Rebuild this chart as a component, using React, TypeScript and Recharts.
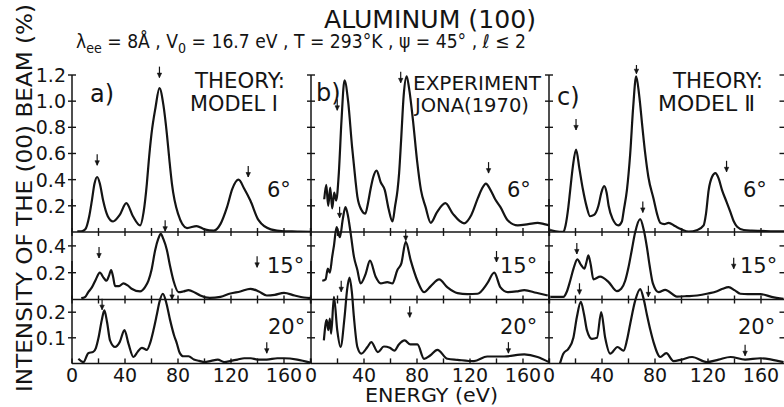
import React from 'react';
import { ComposedChart, Line, XAxis, YAxis, ReferenceDot } from 'recharts';

// ---------------- data (energy in eV, intensity in %) ----------------
// Column a) Theory: Model I
const aE6 = [4, 7, 10, 13, 15, 17, 19, 21, 23.5, 27, 31, 36, 41, 46, 51.4, 54, 56.5, 58, 60, 63, 66, 69, 71.6, 73.5, 75.4, 80, 86.8, 94, 100, 107, 112, 117, 121, 125.7, 130, 134.6, 140.8, 150, 160, 170, 180];
const aI6 = [0.005, 0.005, 0.02, 0.12, 0.24, 0.37, 0.42, 0.37, 0.24, 0.12, 0.08, 0.13, 0.22, 0.12, 0.05, 0.15, 0.37, 0.55, 0.75, 0.95, 1.1, 0.97, 0.75, 0.55, 0.37, 0.14, 0.03, 0.045, 0.02, 0.01, 0.06, 0.19, 0.33, 0.4, 0.33, 0.24, 0.09, 0.02, 0.005, 0.003, 0];
const aE15 = [7, 10, 12.3, 15, 18, 21, 24, 26, 28, 29.5, 31, 32.5, 35.5, 38.8, 42, 45, 51.4, 55, 57.7, 60, 62.8, 65, 67, 69, 71.6, 74, 76.6, 80.4, 84, 88, 93, 96.8, 104, 112, 119.5, 127, 134.6, 141, 147, 153, 160, 168, 175, 180];
const aI15 = [0.01, 0.02, 0.055, 0.09, 0.15, 0.2, 0.16, 0.14, 0.18, 0.22, 0.17, 0.1, 0.1, 0.12, 0.105, 0.08, 0.06, 0.09, 0.14, 0.22, 0.37, 0.45, 0.49, 0.45, 0.37, 0.25, 0.14, 0.055, 0.06, 0.07, 0.05, 0.03, 0.012, 0.02, 0.045, 0.06, 0.08, 0.06, 0.03, 0.035, 0.05, 0.03, 0.015, 0.01];
const aE20 = [4.8, 8.6, 12.3, 16, 18, 20, 22.5, 24.4, 26.5, 28.7, 32.5, 36, 39.6, 42.6, 46.4, 49.5, 52.7, 56.5, 59, 61.5, 64, 66, 68.6, 71, 74, 77, 79, 81.4, 84, 88, 92, 96, 100, 105, 110, 115, 120, 125, 130, 135, 140, 147, 155, 160, 170, 180];
const aI20 = [0.018, 0.005, 0.04, 0.045, 0.06, 0.1, 0.17, 0.207, 0.16, 0.09, 0.064, 0.083, 0.13, 0.077, 0.025, 0.045, 0.061, 0.053, 0.08, 0.13, 0.19, 0.24, 0.272, 0.24, 0.17, 0.11, 0.08, 0.04, 0.028, 0.028, 0.015, 0.01, 0.005, 0.01, 0.015, 0.005, 0.01, 0.015, 0.02, 0.02, 0.015, 0.015, 0.02, 0.02, 0.015, 0.003];

// Column b) Experiment: Jona (1970)
const bE6 = [10, 11.5, 13, 14.5, 16, 17.5, 19, 21, 23, 25.3, 28, 31, 33.5, 35, 38, 41, 43, 45, 47, 49.5, 52.6, 55.7, 58.5, 61.5, 63.5, 65.3, 66.5, 68, 70, 72.2, 74, 77, 80, 83, 86.5, 90.4, 95, 101.4, 107, 115.5, 121, 126, 129, 132, 135, 139, 143, 148.4, 156, 164, 171, 176, 180];
const bI6 = [0.25, 0.36, 0.2, 0.34, 0.18, 0.3, 0.24, 0.45, 0.85, 1.16, 1.0, 0.65, 0.4, 0.27, 0.17, 0.14, 0.22, 0.33, 0.42, 0.47, 0.38, 0.32, 0.18, 0.08, 0.2, 0.32, 0.45, 0.7, 1.05, 1.19, 1.1, 0.85, 0.55, 0.32, 0.19, 0.07, 0.15, 0.22, 0.14, 0.066, 0.13, 0.26, 0.33, 0.37, 0.33, 0.25, 0.19, 0.09, 0.05, 0.06, 0.07, 0.06, 0.05];
const bE15 = [8.5, 11, 12.7, 14.2, 16, 17.3, 19.3, 21.8, 24, 26, 28, 30, 32.4, 35, 37.4, 41.2, 44.5, 48.8, 52.6, 57.6, 61.4, 65.2, 68.2, 71.5, 75.3, 80.3, 85.3, 90.4, 96.7, 103, 110.6, 118, 125.7, 133, 138.3, 143, 148.4, 155, 161, 170, 178.7];
const bI15 = [0.14, 0.15, 0.23, 0.2, 0.32, 0.4, 0.54, 0.465, 0.6, 0.69, 0.62, 0.49, 0.32, 0.22, 0.12, 0.19, 0.29, 0.17, 0.12, 0.13, 0.12, 0.22, 0.27, 0.43, 0.29, 0.14, 0.055, 0.1, 0.15, 0.09, 0.047, 0.04, 0.043, 0.12, 0.2, 0.09, 0.055, 0.06, 0.07, 0.05, 0.03];
const bE20 = [9.7, 11.8, 13, 14.2, 15.2, 17.3, 19.8, 22.3, 25.3, 27.3, 29.1, 30.8, 32.4, 35, 38, 42.6, 45.5, 50.5, 55, 59.5, 63, 66.3, 70.7, 75, 80.3, 85.3, 89.9, 95.4, 103, 110.6, 123, 133, 145.8, 161, 171, 179.6];
const bI20 = [0.09, 0.17, 0.13, 0.175, 0.116, 0.26, 0.13, 0.064, 0.18, 0.29, 0.335, 0.28, 0.18, 0.064, 0.038, 0.064, 0.083, 0.044, 0.066, 0.061, 0.05, 0.074, 0.09, 0.074, 0.074, 0.018, 0.031, 0.053, 0.018, 0.014, 0.009, 0.027, 0.027, 0.035, 0.025, 0.005];

// Column c) Theory: Model II
const cE6 = [0.8, 5, 10.8, 12.5, 14.6, 16, 18, 20.4, 23, 25.5, 28.5, 31, 34, 37.3, 39.5, 41.6, 43.5, 45, 48, 52.4, 55, 56.5, 58.8, 61.3, 63.5, 65.8, 68, 70.5, 72.6, 75, 79, 81.5, 84, 87, 90.3, 95, 100, 105.4, 112, 116.7, 118.5, 120.5, 123, 125.6, 128, 130.6, 134, 137, 139.5, 142, 147, 153, 160, 170, 180];
const cI6 = [0.015, 0.005, 0.0, 0.05, 0.19, 0.32, 0.5, 0.63, 0.48, 0.33, 0.19, 0.12, 0.13, 0.2, 0.3, 0.35, 0.3, 0.2, 0.1, 0.05, 0.08, 0.17, 0.32, 0.6, 0.95, 1.19, 1.05, 0.8, 0.6, 0.42, 0.25, 0.14, 0.07, 0.06, 0.07, 0.045, 0.02, 0.003, 0.015, 0.05, 0.14, 0.32, 0.42, 0.45, 0.41, 0.32, 0.23, 0.15, 0.08, 0.04, 0.015, 0.01, 0.008, 0.005, 0.005];
const cE15 = [1, 10.8, 13.5, 16, 18.5, 21.4, 24, 26.7, 28.3, 29.7, 31.5, 33.5, 38.6, 45, 51.2, 54.5, 57.5, 60, 62.5, 65, 68.8, 71.5, 73.9, 76, 78.4, 82.7, 87.7, 96.6, 104, 111.8, 120, 126.8, 131, 135.6, 140, 144.4, 150, 159.6, 168, 177];
const cI15 = [0.02, 0.02, 0.06, 0.14, 0.23, 0.3, 0.26, 0.23, 0.28, 0.33, 0.26, 0.15, 0.17, 0.13, 0.062, 0.08, 0.14, 0.24, 0.37, 0.5, 0.6, 0.52, 0.39, 0.25, 0.12, 0.055, 0.072, 0.022, 0.025, 0.03, 0.045, 0.062, 0.08, 0.092, 0.07, 0.043, 0.04, 0.04, 0.02, 0.005];
const cE20 = [8.3, 10.8, 14.6, 18.4, 21, 24, 26.5, 28.6, 32.4, 36.2, 39.4, 42.4, 46.2, 51.7, 56.3, 58.8, 61.3, 65.1, 68.8, 71.5, 73.9, 76.5, 78.9, 84, 88.5, 94, 100, 108, 119, 128, 137, 148, 159.6, 168, 177];
const cI20 = [0, 0.038, 0.057, 0.1, 0.18, 0.24, 0.19, 0.13, 0.096, 0.1, 0.2, 0.1, 0.038, 0.064, 0.05, 0.09, 0.155, 0.246, 0.29, 0.25, 0.19, 0.13, 0.083, 0.025, 0.04, 0.009, 0.015, 0.025, 0.005, 0.015, 0.025, 0.015, 0.02, 0.015, 0.005];

// Arrows marking peak positions: [energy, intensity at arrow tip]
const aArrows6 = [[19, 0.51], [66, 1.18], [133, 0.42]];
const aArrows15 = [[20.4, 0.31], [70.3, 0.51], [139.7, 0.24]];
const aArrows20 = [[22.7, 0.21], [75.5, 0.25], [147, 0.04]];
const bArrows6 = [[19.8, 0.93], [67.7, 1.14], [134, 0.45]];
const bArrows15 = [[21.6, 0.61], [71.5, 0.44], [140, 0.28]];
const bArrows20 = [[22.8, 0.28], [74.5, 0.18], [149, 0.04]];
const cArrows6 = [[20.4, 0.78], [66, 1.21], [134, 0.46]];
const cArrows15 = [[21, 0.34], [70.8, 0.65], [139.4, 0.23]];
const cArrows20 = [[23, 0.27], [75, 0.26], [148, 0.03]];

// Tick values / labels
const xTicks = [0, 20, 40, 60, 80, 100, 120, 140, 160, 180];
const xTickLabels = [0, 40, 80, 120, 160];
const yTicks6 = [0.2, 0.4, 0.6, 0.8, 1.0, 1.2];
const yTicks15 = [0.2, 0.4];
const yTicks20 = [0.1, 0.2];
const angleLabels = ['6°', '15°', '20°'];

// ---------------- layout ----------------
const INK = '#141414';
const FONT = "'DejaVu Sans', 'Liberation Sans', sans-serif";
const FW = 400;
const W = 238.5;
const COLS = [72, 310.5, 549];
const ROWS = [
  { bottom: 232, scale: 130.8, max: 1.2, ticks: yTicks6 },
  { bottom: 299, scale: 134, max: 0.75, ticks: yTicks15 },
  { bottom: 363, scale: 256, max: 0.4, ticks: yTicks20 },
];
const ML = 50, MR = 20, MT = 10, MB = 30;

const mk = (E: number[], I: number[]) => E.map((e, i) => ({ e, v: I[i] }));
const SERIES = [
  [mk(aE6, aI6), mk(aE15, aI15), mk(aE20, aI20)],
  [mk(bE6, bI6), mk(bE15, bI15), mk(bE20, bI20)],
  [mk(cE6, cI6), mk(cE15, cI15), mk(cE20, cI20)],
];
const ARROWS = [
  [aArrows6, aArrows15, aArrows20],
  [bArrows6, bArrows15, bArrows20],
  [cArrows6, cArrows15, cArrows20],
];

const Arrow = (p: any) => {
  const { cx, cy } = p;
  if (cx == null || cy == null) return <g />;
  return (
    <g>
      <line x1={cx} x2={cx} y1={cy - 11} y2={cy} stroke={INK} strokeWidth={1.2} />
      <path d={`M${cx - 2.2},${cy - 4.5} L${cx},${cy} L${cx + 2.2},${cy - 4.5} Z`} fill={INK} stroke={INK} strokeWidth={0.6} />
    </g>
  );
};

const makeYTick = (showLabel: boolean, side: 'l' | 'r') => (props: any) => {
  const { x, y, payload } = props;
  return (
    <g>
      <line x1={side === 'l' ? x - 4 : x - 8} x2={x + 4} y1={y} y2={y} stroke={INK} strokeWidth={1.4} />
      {showLabel && (
        <text x={x - 6} y={y + 7} textAnchor="end" fontSize={19} fontFamily={FONT} fontWeight={FW} fill={INK}>
          {Number(payload.value).toFixed(1)}
        </text>
      )}
    </g>
  );
};

const makeXTick = (bottom: boolean) => (props: any) => {
  const { x, y, payload } = props;
  const showLabel = bottom && xTickLabels.includes(payload.value);
  return (
    <g>
      <line x1={x} x2={x} y1={bottom ? y - 5 : y - 4} y2={bottom ? y : y + 4} stroke={INK} strokeWidth={1.4} />
      {showLabel && (
        <text x={x} y={y + 19} textAnchor="middle" fontSize={19} fontFamily={FONT} fontWeight={FW} fill={INK}>
          {payload.value}
        </text>
      )}
    </g>
  );
};

function Panel({ col, row }: { col: number; row: number }) {
  const r = ROWS[row];
  const H = r.max * r.scale;
  const left = COLS[col] - ML;
  const top = r.bottom - H - MT;
  const width = W + ML + MR;
  const height = H + MT + MB;
  const isC = col === 2;
  return (
    <div style={{ position: 'absolute', left, top, width, height }}>
      <ComposedChart width={width} height={height} data={SERIES[col][row]} margin={{ top: MT, right: 0, bottom: 0, left: 0 }}>
        <XAxis
          type="number"
          dataKey="e"
          domain={[0, 180]}
          ticks={xTicks}
          interval={0}
          height={MB}
          tickSize={0}
          tickMargin={0}
          tickLine={false}
          axisLine={{ stroke: INK, strokeWidth: 1.5 }}
          tick={makeXTick(row === 2)}
        />
        <YAxis
          yAxisId="l"
          type="number"
          domain={[0, r.max]}
          allowDataOverflow
          ticks={r.ticks}
          interval={0}
          width={ML}
          tickSize={0}
          tickMargin={0}
          tickLine={false}
          axisLine={{ stroke: INK, strokeWidth: 1.5 }}
          tick={makeYTick(col === 0, 'l')}
        />
        <YAxis
          yAxisId="r"
          orientation="right"
          type="number"
          domain={[0, r.max]}
          allowDataOverflow
          ticks={r.ticks}
          interval={0}
          width={MR}
          tickSize={0}
          tickMargin={0}
          tickLine={false}
          axisLine={isC ? { stroke: INK, strokeWidth: 1.5 } : false}
          tick={isC ? makeYTick(false, 'r') : false}
        />
        <Line
          yAxisId="l"
          type="monotone"
          dataKey="v"
          stroke={INK}
          strokeWidth={2.2}
          dot={false}
          isAnimationActive={false}
          strokeLinejoin="round"
        />
        {ARROWS[col][row].map(([e, v], i) => (
          <ReferenceDot key={i} yAxisId="l" x={e} y={v} r={0} ifOverflow="visible" shape={Arrow} />
        ))}
      </ComposedChart>
    </div>
  );
}

const T = (p: any) => <text fontFamily={FONT} fontWeight={FW} fill={INK} {...p} />;

export default function App() {
  const panels = [];
  for (let c = 0; c < 3; c++) for (let r = 0; r < 3; r++) panels.push(<Panel key={`${c}-${r}`} col={c} row={r} />);
  const angleX = [[267, 267, 268], [507, 500, 500], [743, 740, 738]];
  const angleY = [197, 273, 334];
  return (
    <div style={{ position: 'absolute', left: 0, top: 0, width: 784, height: 407, overflow: 'hidden', background: '#fff' }}>
      {panels}
      <svg width={784} height={407} style={{ position: 'absolute', left: 0, top: 0, pointerEvents: 'none' }}>
        <T x={430} y={28} fontSize={25} textAnchor="middle" textLength={212} lengthAdjust="spacingAndGlyphs">ALUMINUM (100)</T>
        <T x={76} y={48} fontSize={19} textLength={450} lengthAdjust="spacingAndGlyphs">
          λ<tspan dy={5} fontSize={14}>ee</tspan>
          <tspan dy={-5}> = 8Å , V</tspan>
          <tspan dy={5} fontSize={14}>0</tspan>
          <tspan dy={-5}> = 16.7 eV , T = 293°K , ψ = 45° , ℓ ≤ 2</tspan>
        </T>
        <T transform="translate(32,198) rotate(-90)" textAnchor="middle" fontSize={21} textLength={388} lengthAdjust="spacingAndGlyphs">
          INTENSITY OF THE (00) BEAM (%)
        </T>
        <T x={365} y={402} fontSize={19} textLength={133} lengthAdjust="spacingAndGlyphs">ENERGY (eV)</T>

        <T x={90} y={102} fontSize={24}>a)</T>
        <T x={195} y={88} fontSize={21} textLength={90} lengthAdjust="spacingAndGlyphs">THEORY:</T>
        <T x={190} y={111} fontSize={21} textLength={88} lengthAdjust="spacingAndGlyphs">MODEL Ⅰ</T>

        <T x={316} y={101} fontSize={24}>b)</T>
        <T x={413} y={90} fontSize={20} textLength={128} lengthAdjust="spacingAndGlyphs">EXPERIMENT</T>
        <T x={415} y={112} fontSize={20} textLength={114} lengthAdjust="spacingAndGlyphs">JONA(1970)</T>

        <T x={557} y={105} fontSize={24}>c)</T>
        <T x={673} y={88} fontSize={21} textLength={90} lengthAdjust="spacingAndGlyphs">THEORY:</T>
        <T x={658} y={111} fontSize={21} textLength={97} lengthAdjust="spacingAndGlyphs">MODEL Ⅱ</T>

        {angleX.map((xs, c) =>
          xs.map((x, r) => (
            <T key={`${c}-${r}`} x={x} y={angleY[r]} fontSize={21}>
              {angleLabels[r]}
            </T>
          ))
        )}
      </svg>
    </div>
  );
}
